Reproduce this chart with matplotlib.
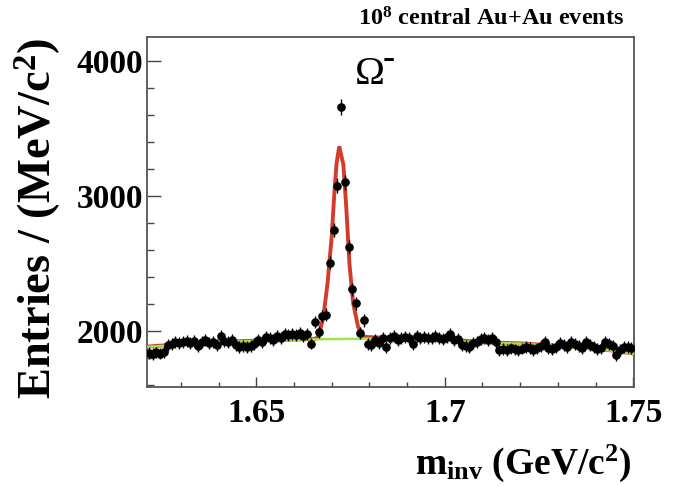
import numpy as np
import matplotlib
matplotlib.use("Agg")
import matplotlib.pyplot as plt
from matplotlib.ticker import MultipleLocator

plt.rcParams['font.family'] = ['Liberation Serif', 'DejaVu Serif']
plt.rcParams['font.weight'] = 'bold'
plt.rcParams['mathtext.fontset'] = 'custom'
plt.rcParams['mathtext.rm'] = 'Liberation Serif:bold'
plt.rcParams['mathtext.bf'] = 'Liberation Serif:bold'
plt.rcParams['mathtext.it'] = 'Liberation Serif:bold'

# ---- data (bin width 1 MeV, first bin centre 1.6215 GeV) ----
bin_start = 1.621
bin_width = 0.001
counts = [
    1835, 1828, 1840, 1832, 1845,                 # 0-4
    1895, 1905, 1918, 1910,                       # 5-8
    1915, 1922, 1908, 1925, 1890, 1918, 1930, 1912,  # 9-16
    1920, 1893, 1960, 1925, 1915, 1930,           # 17-22
    1895, 1880, 1885, 1878, 1890, 1905,           # 23-28
    1935, 1920, 1955, 1945, 1930, 1965, 1950,     # 29-35
    1975, 1968, 1980, 1972, 1985, 1965, 1975,     # 36-42
    1906, 2067, 1988, 2109, 2120, 2505, 2748, 3074, 3658, 3102,  # 43-52
    2619, 2307, 2203, 1983, 2077, 1900,           # 53-58
    1895, 1930, 1910, 1950, 1880, 1945, 1960, 1930, 1950, 1955, 1945, 1905, 1960, 1950,  # 59-72
    1955, 1950, 1945, 1960, 1950, 1940, 1955, 1975, 1930, 1940,  # 73-82
    1893, 1885, 1878, 1910, 1918, 1940, 1950, 1935, 1945, 1920,  # 83-92
    1860, 1865, 1858, 1870, 1862, 1855, 1868, 1880, 1875, 1860, 1870, 1885,  # 93-104
    1918, 1870, 1865, 1880, 1910, 1895, 1880, 1918, 1905, 1885, 1872, 1918,  # 105-116
    1893, 1880, 1865, 1870, 1915, 1900, 1885, 1820, 1860, 1880, 1882, 1875,  # 117-128
]
bin_centres = bin_start + bin_width * (np.arange(len(counts)) + 0.5)
errors = np.sqrt(counts)

# total fit (signal + background)
fit_m = [1.621, 1.630, 1.640, 1.650, 1.660, 1.6655, 1.6665, 1.6678, 1.6689,
         1.6700, 1.6707, 1.6713, 1.6720, 1.6731, 1.6738, 1.6747, 1.6757,
         1.6770, 1.6786, 1.690, 1.700, 1.710, 1.720, 1.730, 1.740, 1.745, 1.750]
fit_v = [1883, 1901, 1916, 1928, 1936, 1939, 1955, 2104, 2352,
         2698, 3020, 3242, 3366, 3230, 2945, 2500, 2203,
         2030, 1955, 1942, 1937, 1916, 1907, 1889, 1868, 1852, 1832]

# background fit (green curve)
bkg_m = [1.621, 1.635, 1.650, 1.665, 1.680, 1.695, 1.710, 1.720, 1.730, 1.740, 1.745, 1.750]
bkg_v = [1881, 1906, 1927, 1937, 1942, 1936, 1914, 1905, 1887, 1866, 1850, 1830]

x_ticks = [1.65, 1.70, 1.75]
x_ticklabels = ["1.65", "1.7", "1.75"]
y_ticks = [2000, 3000, 4000]

fig = plt.figure(figsize=(6.82, 4.86), dpi=100)
ax = fig.add_axes([147/682, 1 - 387/486, (634 - 147)/682, (387 - 37)/486])

ax.plot(fit_m, fit_v, color='#d23c2b', lw=2.8, zorder=2, solid_joinstyle='miter')
ax.plot(bkg_m, bkg_v, color='#a3e34a', lw=1.8, zorder=3)
ax.errorbar(bin_centres, counts, yerr=errors, fmt='o', color='black',
            ms=5.2, elinewidth=1.0, capsize=0, zorder=4)

ax.set_xlim(1.621, 1.7502)
ax.set_ylim(1584, 4176)

ax.set_xticks(x_ticks)
ax.set_xticklabels(x_ticklabels)
ax.set_yticks(y_ticks)
ax.xaxis.set_minor_locator(MultipleLocator(0.01))
ax.yaxis.set_minor_locator(MultipleLocator(200))
ax.tick_params(axis='both', which='both', direction='in', top=False, right=False,
               color='#444444', width=1.0)
ax.tick_params(axis='y', which='major', length=10, pad=3, labelsize=24)
ax.tick_params(axis='y', which='minor', length=5)
ax.tick_params(axis='x', which='major', length=7, pad=8, labelsize=24)
ax.tick_params(axis='x', which='minor', length=3.5)
for lab in ax.get_xticklabels() + ax.get_yticklabels():
    lab.set_fontweight('bold')
for s in ax.spines.values():
    s.set_color('#555555')
    s.set_linewidth(1.3)

fig.text(38/682, 1 - 38/486, r"Entries / (MeV/c$^{2}$)", rotation=90,
         ha='center', va='top', fontsize=33.5, fontweight='bold')
fig.text(632/682, 1 - 463/486, r"m$_{\mathrm{inv}}$ (GeV/c$^{2}$)",
         ha='right', va='center', fontsize=27, fontweight='bold')
fig.text(624/682, 1 - 19/486, r"10$^{8}$ central Au+Au events",
         ha='right', va='center', fontsize=17.5, fontweight='bold')
ax.text(1.6761, 3900, "Ω", ha='left', va='center',
        fontsize=29, fontweight='normal')
ax.text(1.6836, 4010, "-", ha='left', va='center',
        fontsize=26, fontweight='bold')

fig.savefig("out.png", dpi=100)
